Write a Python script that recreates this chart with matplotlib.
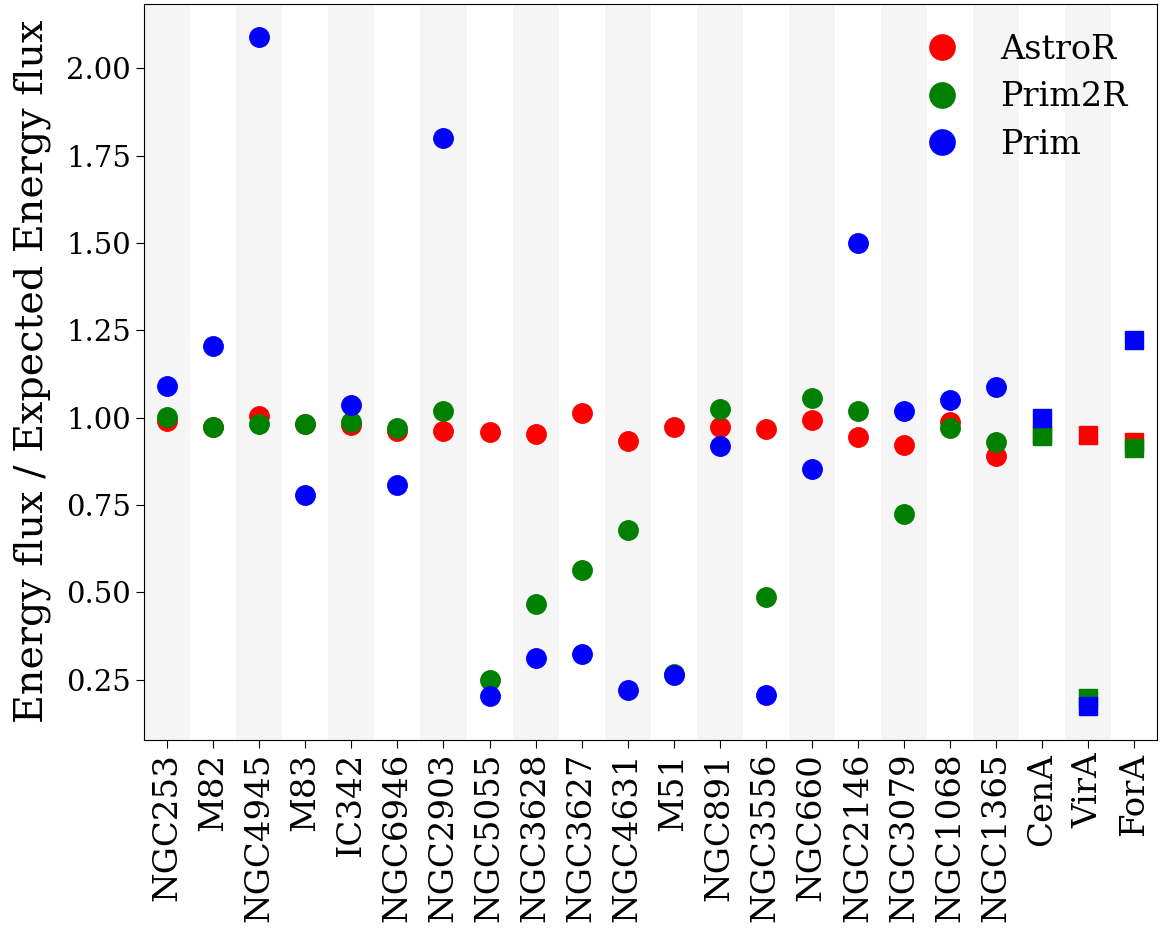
import numpy as np
import matplotlib
matplotlib.use("Agg")
import matplotlib.pyplot as plt

plt.rcParams['font.family'] = 'DejaVu Serif'

# sources and flux ratios (fitted / expected energy flux)
sources = ["NGC253", "M82", "NGC4945", "M83", "IC342", "NGC6946", "NGC2903",
           "NGC5055", "NGC3628", "NGC3627", "NGC4631", "M51", "NGC891",
           "NGC3556", "NGC660", "NGC2146", "NGC3079", "NGC1068", "NGC1365",
           "CenA", "VirA", "ForA"]
astro_r = [0.990, 0.973, 1.004, 0.982, 0.978, 0.961, 0.962, 0.959, 0.954, 1.012,
           0.933, 0.974, 0.973, 0.967, 0.994, 0.945, 0.923, 0.988, 0.891,
           0.950, 0.949, 0.930]
prim2_r = [1.002, 0.973, 0.982, 0.982, 0.987, 0.969, 1.020, 0.249, 0.467, 0.563,
           0.677, 0.267, 1.025, 0.486, 1.055, 1.019, 0.723, 0.969, 0.929,
           0.947, 0.198, 0.914]
prim = [1.091, 1.205, 2.089, 0.778, 1.036, 0.808, 1.800, 0.204, 0.312, 0.323,
        0.219, 0.263, 0.920, 0.206, 0.853, 1.501, 1.019, 1.051, 1.087,
        1.000, 0.174, 1.223]
n_gal = 19  # first 19 are star-forming galaxies, rest are radio galaxies

x = np.arange(len(sources))

fig = plt.figure(figsize=(11.63, 9.41), dpi=100)
ax = fig.add_axes([0.124, 0.214, 0.871, 0.782])

for i in range(0, len(sources), 2):
    ax.axvspan(i - 0.5, i + 0.5, color='whitesmoke', lw=0, zorder=0)

series = [(astro_r, 'red', 'AstroR'), (prim2_r, 'green', 'Prim2R'), (prim, 'blue', 'Prim')]
for vals, c, lab in series:
    vals = np.array(vals)
    ax.plot(x[:n_gal], vals[:n_gal], 'o', color=c, ms=14, ls='none', label=lab, zorder=3)
    ax.plot(x[n_gal:], vals[n_gal:], 's', color=c, ms=13.5, ls='none', zorder=3)

ax.set_xlim(-0.5, len(sources) - 0.5)
ax.set_xticks(x)
ax.set_xticklabels(sources, rotation=90, fontsize=24.5)
ax.set_yticks([0.25, 0.5, 0.75, 1.0, 1.25, 1.5, 1.75, 2.0])
ax.set_yticklabels(["%.2f" % v for v in ax.get_yticks()], fontsize=21)
ax.tick_params(length=6)
ax.set_ylabel("Energy flux / Expected Energy flux", fontsize=28.5, labelpad=11)

ax.legend(loc='upper right', bbox_to_anchor=(1.0, 1.0), fontsize=24,
          frameon=False, markerscale=1.3, handletextpad=0.75, labelspacing=0.47)

fig.savefig("out.png", dpi=100)
